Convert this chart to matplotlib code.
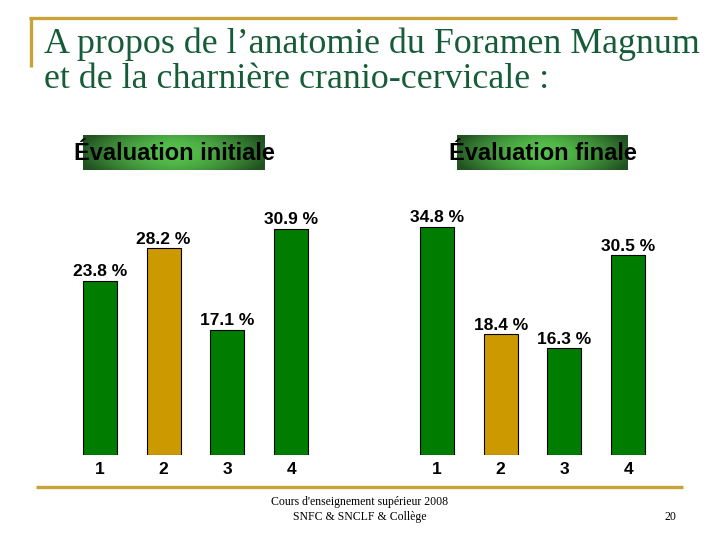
import numpy as np
import matplotlib
matplotlib.use("Agg")
import matplotlib.pyplot as plt
from matplotlib.lines import Line2D

# ---- data ----
categories = ["1", "2", "3", "4"]
initial_values = [23.8, 28.2, 17.1, 30.9]
final_values = [34.8, 18.4, 16.3, 30.5]
bar_colors = ["#007D00", "#CC9900", "#007D00", "#007D00"]
panel_titles = ["Évaluation initiale", "Évaluation finale"]
title_lines = ["A propos de l\u2019anatomie du Foramen Magnum",
               "et de la charnière cranio-cervicale :"]
footer_lines = ["Cours d'enseignement supérieur 2008", "SNFC & SNCLF & Collège"]
page_number = "20"

W, H = 720, 540
fig = plt.figure(figsize=(7.2, 5.4), dpi=100)
fig.patch.set_facecolor("white")

def fx(px):
    return px / W

def fy(py):
    return (H - py) / H

gold = "#C9A33A"
title_color = "#175C38"

# decorative gold lines
fig.add_artist(Line2D([fx(29), fx(677)], [fy(18), fy(18)], color=gold, lw=2.4,
                      transform=fig.transFigure, solid_capstyle="butt"))
fig.add_artist(Line2D([fx(30.5), fx(30.5)], [fy(17), fy(67)], color=gold, lw=2.4,
                      transform=fig.transFigure, solid_capstyle="butt"))
fig.add_artist(Line2D([fx(36), fx(683)], [fy(486.5), fy(486.5)], color=gold, lw=2.4,
                      transform=fig.transFigure, solid_capstyle="butt"))

# title
fig.text(fx(44), fy(53), title_lines[0], family="Liberation Serif", fontsize=25.8,
         color=title_color, va="baseline", ha="left")
fig.text(fx(44), fy(88), title_lines[1], family="Liberation Serif", fontsize=25.8,
         color=title_color, va="baseline", ha="left")

# footer
fig.text(fx(360), fy(502), footer_lines[0], family="Liberation Serif", fontsize=8.5,
         color="black", ha="center", va="center")
fig.text(fx(360), fy(517), footer_lines[1], family="Liberation Serif", fontsize=8.5,
         color="black", ha="center", va="center")
fig.text(fx(670), fy(517), page_number, family="Liberation Serif", fontsize=8.5,
         color="black", ha="center", va="center")

# gradient header boxes
def gradient_box(x0, x1, y0, y1, text):
    ax = fig.add_axes([fx(x0), fy(y1), fx(x1 - x0), (y1 - y0) / H])
    nx, ny = 200, 40
    xs = np.linspace(-1, 1, nx)
    ys = np.linspace(-1, 1, ny)
    X, Y = np.meshgrid(xs, ys)
    f = np.clip(1 - (np.abs(X) ** 1.6) * 0.9 - (np.abs(Y) ** 2) * 0.25, 0, 1)
    dark = np.array([0.13, 0.32, 0.13])
    bright = np.array([0.34, 0.76, 0.30])
    img = dark[None, None, :] + (bright - dark)[None, None, :] * f[:, :, None]
    ax.imshow(img, aspect="auto", extent=[0, 1, 0, 1])
    ax.set_axis_off()
    fig.text(fx((x0 + x1) / 2), fy(154), text, family="Liberation Sans",
             fontweight="bold", fontsize=17, color="black", ha="center",
             va="center", zorder=5)

gradient_box(83, 265, 135, 170, panel_titles[0])
gradient_box(457, 628, 135, 170, panel_titles[1])

# bar charts
def bar_panel(left_px, values, ymax):
    base = 455
    top = 190
    ax = fig.add_axes([fx(left_px), fy(base), fx(255), (base - top) / H])
    x = np.arange(1, len(values) + 1)
    ax.bar(x, values, width=0.53, color=bar_colors, edgecolor="black", linewidth=0.8)
    ax.set_xlim(0.5, 4.5)
    ax.set_ylim(0, ymax)
    for xi, v in zip(x, values):
        ax.annotate(f"{v:.1f} %", (xi, v), xytext=(0, 1.2), textcoords="offset points",
                    ha="center", va="bottom", family="Liberation Sans",
                    fontweight="bold", fontsize=12.5, color="black",
                    annotation_clip=False)
    ax.set_xticks(x)
    ax.set_xticklabels(categories, family="Liberation Sans", fontweight="bold",
                       fontsize=12.5)
    ax.tick_params(axis="x", length=0, pad=5)
    ax.set_yticks([])
    for s in ax.spines.values():
        s.set_visible(False)
    ax.patch.set_alpha(0)

bar_panel(68, initial_values, 265 / 7.33)
bar_panel(405, final_values, 265 / 6.55)

fig.savefig("out.png", dpi=100, facecolor="white")
